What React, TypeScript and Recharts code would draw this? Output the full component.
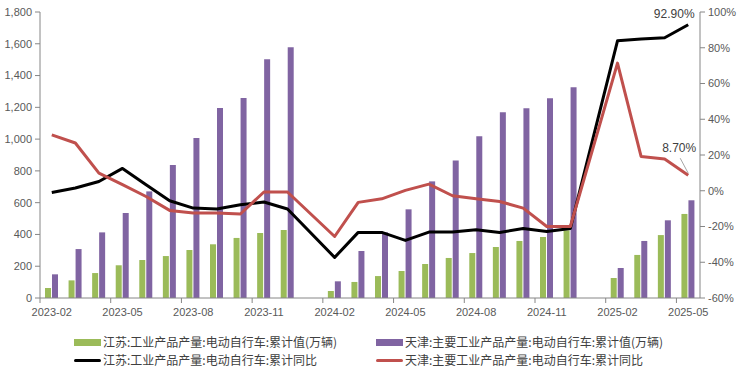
import React from 'react';
import { ComposedChart, Bar, Line, XAxis, YAxis, LabelList } from 'recharts';

const months = [
  '2023-02','2023-03','2023-04','2023-05','2023-06','2023-07','2023-08','2023-09','2023-10','2023-11','2023-12',
  '2024-01','2024-02','2024-03','2024-04','2024-05','2024-06','2024-07','2024-08','2024-09','2024-10','2024-11','2024-12',
  '2025-01','2025-02','2025-03','2025-04','2025-05',
];
const jiangsuValue = [63,111,157,206,239,264,302,338,378,409,428,null,44,101,138,170,214,252,283,321,359,384,426,null,126,271,396,529];
const tianjinValue = [149,308,413,535,671,837,1007,1196,1259,1502,1578,null,105,296,413,558,734,866,1018,1169,1194,1257,1326,null,189,359,489,615];
const jiangsuYoy = [-1,1.5,5.2,12.5,3.4,-5.6,-9.7,-10.2,-7.8,-6.3,-10.2,null,-37.3,-23.3,-23.3,-27.8,-23.1,-23.1,-21.8,-23.3,-21.1,-22.8,-21.1,null,83.9,84.9,85.6,92.9];
const tianjinYoy = [31.3,26.7,9.9,3.4,-3.2,-11,-12.5,-12.5,-13,-0.7,-0.7,null,-25.6,-6.5,-4.5,0.2,3.7,-2.8,-4.5,-6,-9.7,-20,-20,null,71.4,19.2,17.7,8.7];
const leftTicks = [0,200,400,600,800,1000,1200,1400,1600,1800];
const rightTicks = [-60,-40,-20,0,20,40,60,80,100];

const names = {
  jsv: '江苏:工业产品产量:电动自行车:累计值(万辆)',
  tjv: '天津:主要工业产品产量:电动自行车:累计值(万辆)',
  jsy: '江苏:工业产品产量:电动自行车:累计同比',
  tjy: '天津:主要工业产品产量:电动自行车:累计同比',
};

const data = months.map((m, i) => ({
  month: m,
  jsv: jiangsuValue[i],
  tjv: tianjinValue[i],
  jsy: jiangsuYoy[i],
  tjy: tianjinYoy[i],
}));

const AXIS = '#868686';
const TICK_FONT = { fontFamily: 'Liberation Sans, Arial, sans-serif', fontSize: 11, fill: '#595959' };
const LAST = months.length - 1;

const XTick = (props: any) => {
  const { x, y, payload } = props;
  const off = payload && typeof payload.offset === 'number' ? payload.offset : 11.8;
  return (
    <g>
      <line x1={x - off} x2={x - off} y1={y} y2={y + 5} stroke={AXIS} />
      <text x={x} y={y + 18} textAnchor="middle" {...TICK_FONT}>{payload.value}</text>
    </g>
  );
};

const blackLabel = (props: any) => {
  const { x, y, index } = props;
  if (index !== LAST) return null;
  return (
    <text x={x - 14} y={y - 7} textAnchor="middle" fontFamily="Liberation Sans, Arial, sans-serif" fontSize={12} fill="#404040">92.90%</text>
  );
};

const redLabel = (props: any) => {
  const { x, y, index } = props;
  if (index !== LAST) return null;
  return (
    <g>
      <line x1={x - 8} y1={y - 17} x2={x} y2={y - 2} stroke="#A6A6A6" strokeWidth={1} />
      <text x={x - 9} y={y - 23} textAnchor="middle" fontFamily="Liberation Sans, Arial, sans-serif" fontSize={12} fill="#404040">8.70%</text>
    </g>
  );
};

const legendItems = [
  { key: 'jsv', type: 'rect', color: '#9BBB59', left: 74, top: 335 },
  { key: 'tjv', type: 'rect', color: '#8064A2', left: 376, top: 335 },
  { key: 'jsy', type: 'line', color: '#000000', left: 74, top: 353 },
  { key: 'tjy', type: 'line', color: '#C0504D', left: 376, top: 353 },
];

export default function App() {
  return (
    <div style={{ position: 'absolute', left: 0, top: 0, width: 740, height: 372, background: '#fff', overflow: 'hidden' }}>
      <ComposedChart width={740} height={372} data={data} margin={{ top: 12, right: 0, left: 0, bottom: 54 }} barSize={6} barGap={1}>
        <XAxis dataKey="month" interval={2} tickLine={false} tickSize={0} tickMargin={0} height={20}
          axisLine={{ stroke: AXIS }} tick={<XTick />} />
        <YAxis yAxisId="left" domain={[0, 1800]} ticks={leftTicks} width={40}
          tickFormatter={(v: number) => v.toLocaleString('en-US')}
          axisLine={{ stroke: AXIS }} tickLine={{ stroke: AXIS }} tickSize={5} tickMargin={3} tick={TICK_FONT} />
        <YAxis yAxisId="right" orientation="right" domain={[-60, 100]} ticks={rightTicks} width={40}
          tickFormatter={(v: number) => `${v}%`}
          axisLine={{ stroke: AXIS }} tickLine={{ stroke: AXIS }} tickSize={5} tickMargin={3} tick={TICK_FONT} />
        <Bar yAxisId="left" dataKey="jsv" name={names.jsv} fill="#9BBB59" isAnimationActive={false} />
        <Bar yAxisId="left" dataKey="tjv" name={names.tjv} fill="#8064A2" isAnimationActive={false} />
        <Line yAxisId="right" dataKey="jsy" name={names.jsy} stroke="#000000" strokeWidth={3} dot={false}
          connectNulls type="linear" isAnimationActive={false} strokeLinejoin="round">
          <LabelList dataKey="jsy" content={blackLabel} />
        </Line>
        <Line yAxisId="right" dataKey="tjy" name={names.tjy} stroke="#C0504D" strokeWidth={3} dot={false}
          connectNulls type="linear" isAnimationActive={false} strokeLinejoin="round">
          <LabelList dataKey="tjy" content={redLabel} />
        </Line>
      </ComposedChart>
      {legendItems.map((it) => (
        <div key={it.key} style={{ position: 'absolute', left: it.left, top: it.top, height: 14, display: 'flex', alignItems: 'center',
          fontFamily: '"Noto Sans CJK SC", sans-serif', fontSize: 12, color: '#404040', whiteSpace: 'nowrap', lineHeight: '14px' }}>
          {it.type === 'rect'
            ? <span style={{ display: 'inline-block', width: 27, height: 7, background: it.color, marginRight: 2 }} />
            : <span style={{ display: 'inline-block', width: 27, height: 3, background: it.color, borderRadius: 2, marginRight: 2 }} />}
          <span>{names[it.key as keyof typeof names]}</span>
        </div>
      ))}
    </div>
  );
}
